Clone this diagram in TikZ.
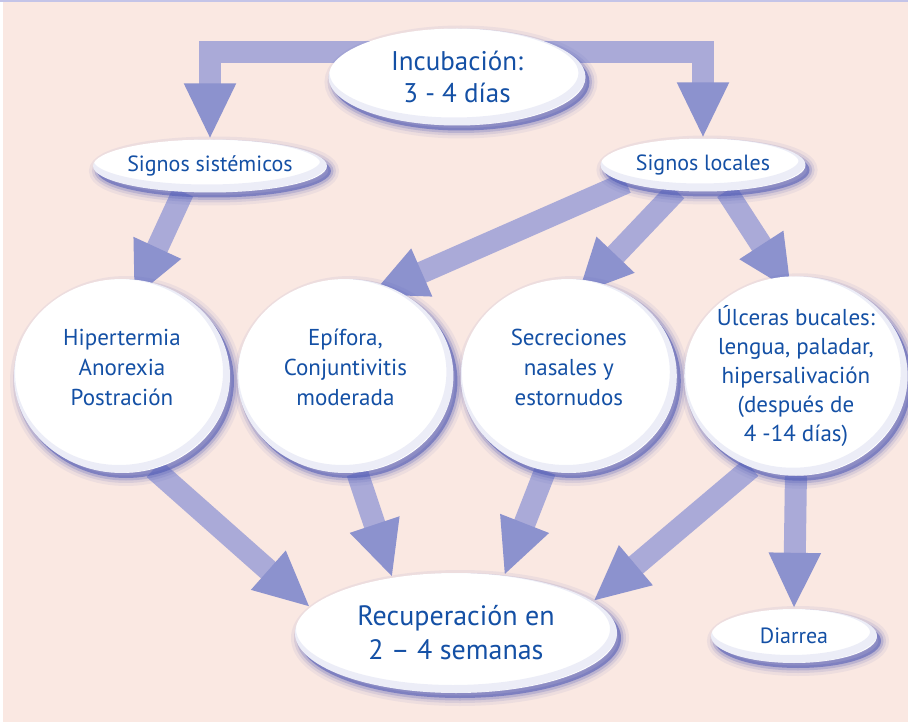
\documentclass[tikz,border=0pt]{standalone}
\usepackage{fontspec}
\setmainfont{PT Sans}
\usepackage{tikz}
\usetikzlibrary{shapes.geometric,arrows.meta,positioning,backgrounds,shadows,calc}
\definecolor{bgc}{RGB}{250,232,226}
\definecolor{topc}{RGB}{196,196,232}
\definecolor{txtc}{RGB}{20,80,165}
\definecolor{flowc}{RGB}{170,170,216}
\definecolor{headc}{RGB}{140,146,206}
\definecolor{rimc}{RGB}{78,88,180}
\pgfdeclarelayer{back}
\pgfsetlayers{back,background,main}
\tikzset{
  bub/.style={ellipse,fill=white,inner sep=0pt,align=center,text=txtc,
    general shadow={shadow xshift=4pt,shadow yshift=-5pt,draw=rimc,line width=16pt,opacity=.07},
    general shadow={shadow xshift=4pt,shadow yshift=-5pt,draw=rimc,line width=10pt,opacity=.12},
    general shadow={shadow xshift=4pt,shadow yshift=-5pt,draw=rimc,line width=5pt,opacity=.22},
    general shadow={shadow xshift=4pt,shadow yshift=-5pt,fill=rimc,opacity=.55},
    path picture={
      \path let \p1=($(path picture bounding box.north east)-(path picture bounding box.center)$) in
        [draw=rimc,opacity=.07,line width=16pt] ([shift={(-3pt,4pt)}]path picture bounding box.center) ellipse [x radius=\x1,y radius=\y1]
        [draw=rimc,opacity=.1,line width=8pt] ([shift={(-3pt,4pt)}]path picture bounding box.center) ellipse [x radius=\x1,y radius=\y1];
    }},
  sig/.style={bub,minimum width=205pt,minimum height=53pt,font=\fontsize{22}{26}\selectfont},
  circ/.style={bub,minimum width=216pt,minimum height=194pt,font=\fontsize{23}{30}\selectfont},
  flow/.style={line width=22pt,draw=flowc,-{Triangle[width=48pt,length=56pt,color=headc]}},
}
\begin{document}
\begin{tikzpicture}[x=1pt,y=-1pt]
  \useasboundingbox (0,0) rectangle (908,722);
  \begin{pgfonlayer}{back}
    \fill[bgc] (0,0) rectangle (908,722);
    \fill[white] (0,0) rectangle (3,722);
    \fill[topc] (0,0) rectangle (908,2);
  \end{pgfonlayer}
  \node[bub,minimum width=257pt,minimum height=97pt,font=\fontsize{27}{32}\selectfont] (inc) at (457,77) {Incubación:\\3 - 4 días};
  \node[sig] (sist) at (210,166) {Signos sistémicos};
  \node[sig] (loc) at (703,165) {Signos locales};
  \node[circ] (hip) at (122,376) {Hipertermia\\Anorexia\\Postración\rule[-18pt]{0pt}{0pt}};
  \node[circ,right=7pt of hip] (epi) {Epífora,\\Conjuntivitis\\moderada\rule[-18pt]{0pt}{0pt}};
  \node[circ,right=7pt of epi] (sec) {Secreciones\\nasales y\\estornudos\rule[-18pt]{0pt}{0pt}};
  \node[circ,right=7pt of sec,font=\fontsize{23}{29}\selectfont] (ulc) {Úlceras bucales:\\lengua, paladar,\\hipersalivación\\(después de\\4 -14 días)};
  \node[bub,minimum width=322pt,minimum height=120pt,font=\fontsize{28}{34}\selectfont] (rec) at (456,633) {Recuperación en\\2 – 4 semanas};
  \node[sig,minimum width=166pt,minimum height=54pt] (dia) at (794,636) {Diarrea};
  \begin{scope}[on background layer]
    \draw[flow] ([yshift=25pt]inc.center) -| (sist.north);
    \draw[flow] ([yshift=25pt]inc.center) -| (loc.north);
    \draw[flow,shorten >=-20pt] (sist.224) -- (hip.78);
    \draw[flow,shorten >=-20pt] (loc.193) -- (epi.64);
    \draw[flow,shorten >=-20pt] (loc.224) -- (sec.77);
    \draw[flow,shorten >=-18pt] (loc.312) -- (ulc.98);
    \draw[flow] (hip.289) -- (rec.170);
    \draw[flow] (epi.277) -- (rec.139);
    \draw[flow] (sec.256) -- (rec.50);
    \draw[flow] (ulc.244) -- (rec.13);
    \draw[flow] (ulc.south) -- (dia.north);
  \end{scope}
\end{tikzpicture}
\end{document}
